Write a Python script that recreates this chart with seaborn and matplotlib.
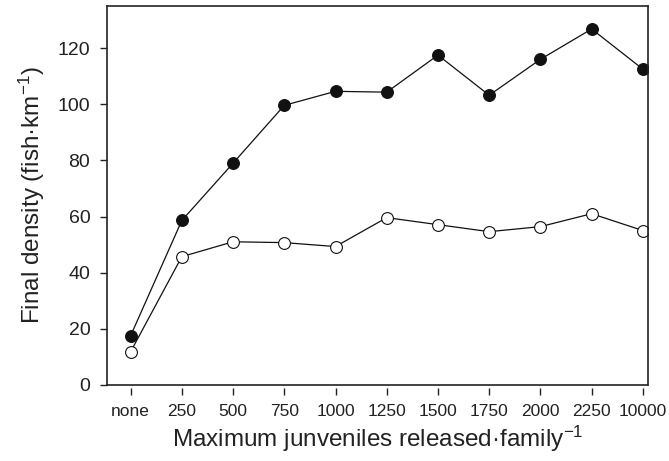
import matplotlib
matplotlib.use("Agg")
import matplotlib.pyplot as plt
import seaborn as sns
import pandas as pd
import numpy as np

categories = ["none", "250", "500", "750", "1000", "1250", "1500", "1750", "2000", "2250", "10000"]
filled_vals = [17.5, 58.6, 79.0, 99.6, 104.6, 104.3, 117.5, 103.2, 116.0, 126.8, 112.5]
open_vals = [11.8, 45.7, 51.0, 50.7, 49.3, 59.6, 57.1, 54.6, 56.4, 61.0, 55.0]

sns.set_style("white")
plt.rcParams['font.family'] = ['Liberation Sans', 'DejaVu Sans']
plt.rcParams['mathtext.fontset'] = 'custom'
plt.rcParams['mathtext.rm'] = 'Liberation Sans'
plt.rcParams['mathtext.it'] = 'Liberation Sans'

pos = np.arange(len(categories))
df = pd.DataFrame({"pos": np.concatenate([pos, pos]),
                   "val": filled_vals + open_vals,
                   "grp": ["filled"] * len(pos) + ["open"] * len(pos)})

fig = plt.figure(figsize=(6.69, 4.61), dpi=100)
ax = fig.add_axes([0.16, 0.165, 0.8086, 0.822])

sns.lineplot(data=df[df.grp == "filled"], x="pos", y="val", ax=ax, color="#111111",
             lw=0.9, marker="o", markersize=8.5, markerfacecolor="#111111",
             markeredgecolor="#111111", markeredgewidth=0.8, legend=False)
sns.lineplot(data=df[df.grp == "open"], x="pos", y="val", ax=ax, color="#111111",
             lw=0.9, marker="o", markersize=8.5, markerfacecolor="white",
             markeredgecolor="#111111", markeredgewidth=0.8, legend=False)

ax.set_xlim(-0.46, 10.1)
ax.set_ylim(0, 135)
ax.set_xticks(pos)
ax.set_xticklabels(categories)
ax.set_yticks([0, 20, 40, 60, 80, 100, 120])
ax.tick_params(axis='y', labelsize=14, length=5, width=1, direction='out', left=True,
               colors='#222222', pad=7)
ax.tick_params(axis='x', labelsize=12.5, length=5, width=1, direction='out', bottom=True,
               colors='#222222', pad=7)
for s in ax.spines.values():
    s.set_color('#222222')
    s.set_linewidth(1.2)
ax.spines['bottom'].set_position(('outward', 2))
ax.spines['bottom'].set_visible(False)
ax.axhline(0, color='#222222', lw=1.2, clip_on=False, zorder=5)

ax.set_xlabel("Maximum junveniles released·family$^{-1}$", fontsize=17.5, color='#222222', labelpad=3)
ax.set_ylabel("Final density (fish·km$^{-1}$)", fontsize=17.5, color='#222222', labelpad=8)

fig.savefig("out.png", dpi=100)
